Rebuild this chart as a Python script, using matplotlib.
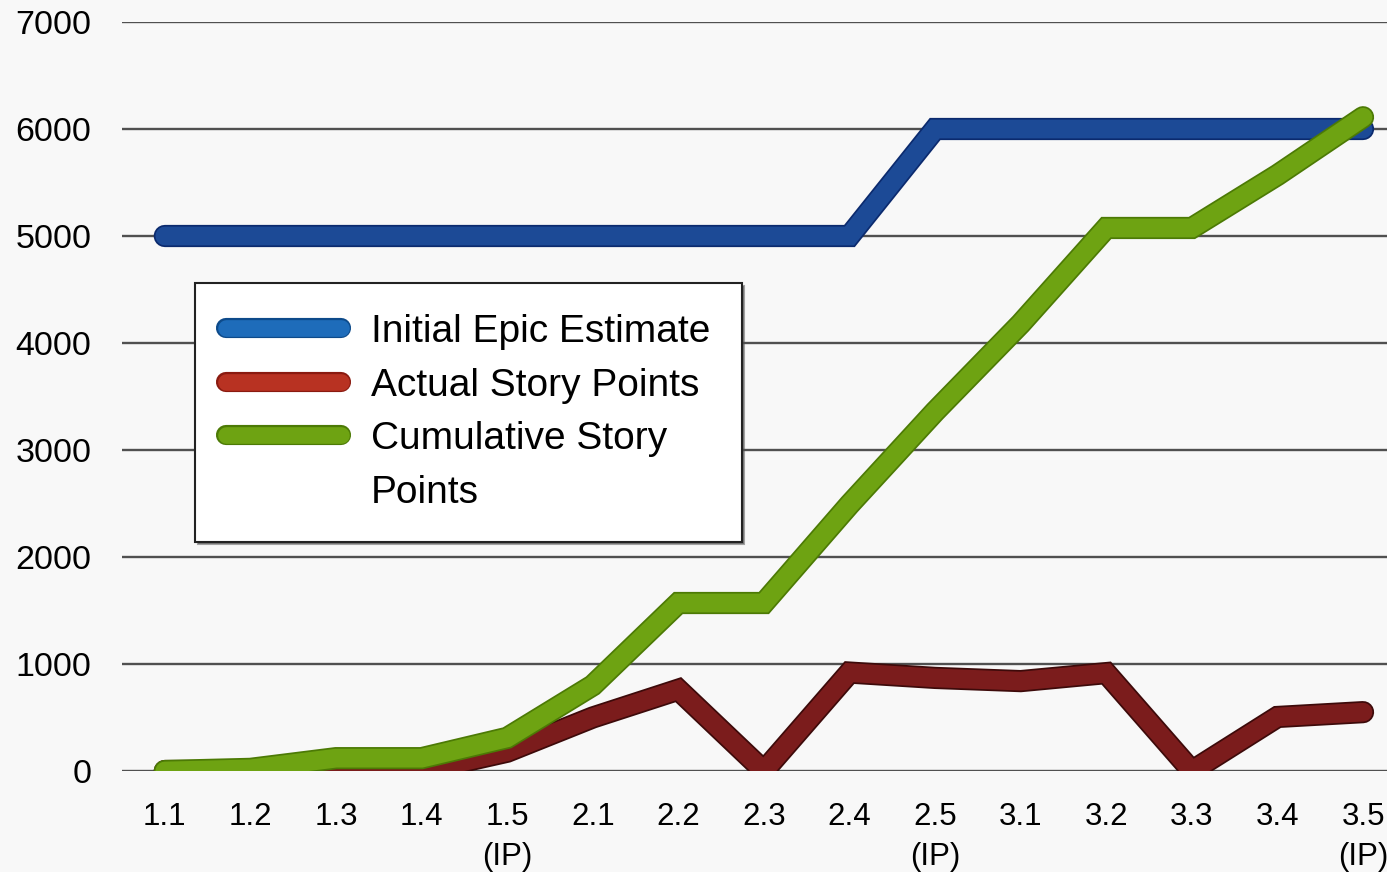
import numpy as np
import matplotlib
matplotlib.use("Agg")
import matplotlib.pyplot as plt
import matplotlib.patheffects as pe
from matplotlib.lines import Line2D

plt.rcParams['font.family'] = ['Liberation Sans', 'DejaVu Sans']

# ---------------- data ----------------
releases = ['1.1', '1.2', '1.3', '1.4', '1.5\n(IP)', '2.1', '2.2', '2.3',
            '2.4', '2.5\n(IP)', '3.1', '3.2', '3.3', '3.4', '3.5\n(IP)']
epic_estimate = [5000, 5000, 5000, 5000, 5000, 5000, 5000, 5000,
                 5000, 6000, 6000, 6000, 6000, 6000, 6000]
actual_points = [0, 0, 0, 0, 180, 500, 760, 0,
                 920, 870, 840, 915, 0, 505, 550]
cumulative_points = [0, 20, 120, 120, 310, 800, 1570, 1570,
                     2490, 3360, 4180, 5075, 5075, 5570, 6110]
labels = ['Initial Epic Estimate', 'Actual Story Points',
          'Cumulative Story', 'Points']

# ---------------- figure ----------------
bg = '#f8f8f8'
fig = plt.figure(figsize=(13.87, 8.72), dpi=100, facecolor=bg)
ax = fig.add_axes((122/1387, 1 - 771/872, 1 - 122/1387, (771 - 22)/872))
ax.set_facecolor(bg)

x = np.arange(len(releases))
lw = 13.5

def outlined(dark, w=lw):
    return [pe.Stroke(linewidth=w + 2.5, foreground=dark), pe.Normal()]

ax.plot(x, epic_estimate, color='#1c4a96', lw=lw, solid_capstyle='round',
        solid_joinstyle='miter', path_effects=outlined('#0b2a6e'), zorder=3)
ax.plot(x, actual_points, color='#7b1c1c', lw=lw, solid_capstyle='round',
        solid_joinstyle='miter', path_effects=outlined('#3d0a0a'), zorder=4)
ax.plot(x, cumulative_points, color='#6ea312', lw=lw, solid_capstyle='round',
        solid_joinstyle='miter', path_effects=outlined('#4c7a05'), zorder=5)

ax.set_xlim(-0.5, 14.28)
ax.set_ylim(0, 7000)
ax.set_yticks(np.arange(0, 7001, 1000))
ax.set_xticks(x)
ax.set_xticklabels(releases, fontsize=22.5, linespacing=1.45)
ax.tick_params(axis='x', length=0, pad=22)
ax.tick_params(axis='y', length=0, pad=22, labelsize=24.5)
ax.yaxis.grid(True, color='#505050', lw=1.7, zorder=1)
ax.set_axisbelow(True)
for s in ax.spines.values():
    s.set_visible(False)

# legend (brighter swatches like the original); "Points" sits on its own row
lw_leg = 12
handles = [Line2D([], [], color='#1e6cba', lw=lw_leg, solid_capstyle='round',
                  path_effects=outlined('#0d4a8a', lw_leg)),
           Line2D([], [], color='#b83222', lw=lw_leg, solid_capstyle='round',
                  path_effects=outlined('#8a1a10', lw_leg)),
           Line2D([], [], color='#6ea312', lw=lw_leg, solid_capstyle='round',
                  path_effects=outlined('#4c7a05', lw_leg)),
           Line2D([], [], color='none', lw=0)]
leg = fig.legend(handles, labels, loc='upper left',
                 bbox_to_anchor=(195/1387, 1 - 283/872),
                 fontsize=28, frameon=True, fancybox=False, shadow=True,
                 handlelength=2.95, handletextpad=0.78, labelspacing=0.45,
                 borderpad=0.8, borderaxespad=0)
leg.get_frame().set_edgecolor('#222222')
leg.get_frame().set_linewidth(1.5)
leg.get_frame().set_facecolor('white')

fig.savefig('out.png', dpi=100, facecolor=bg)
